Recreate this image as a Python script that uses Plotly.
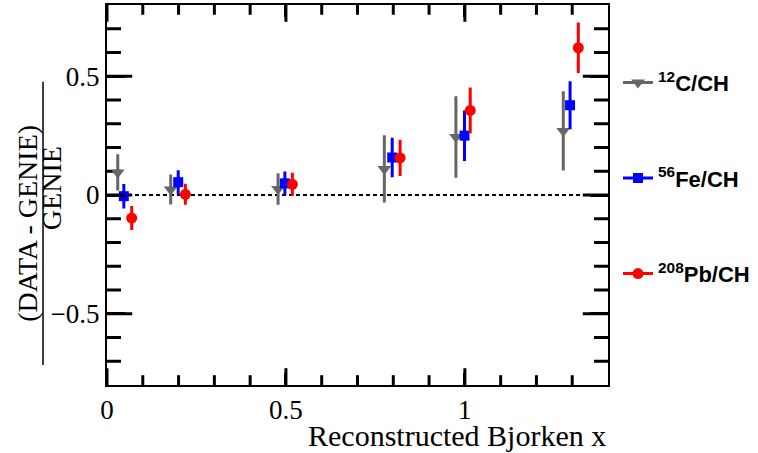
import plotly.graph_objects as go

# ---- data ----
x_c = [0.030, 0.178, 0.478, 0.775, 0.975, 1.275]
y_c = [0.095, 0.023, 0.025, 0.110, 0.244, 0.270]
e_c = [0.070, 0.057, 0.060, 0.135, 0.165, 0.160]

x_fe = [0.047, 0.199, 0.497, 0.797, 0.999, 1.294]
y_fe = [-0.005, 0.054, 0.049, 0.158, 0.250, 0.378]
e_fe = [0.045, 0.044, 0.044, 0.077, 0.100, 0.095]

x_pb = [0.069, 0.219, 0.518, 0.819, 1.015, 1.317]
y_pb = [-0.097, 0.003, 0.045, 0.156, 0.356, 0.620]
e_pb = [0.044, 0.038, 0.042, 0.070, 0.090, 0.100]

series_names = ["<b><sup>12</sup>C/CH</b>", "<b><sup>56</sup>Fe/CH</b>", "<b><sup>208</sup>Pb/CH</b>"]
x_range = [0, 1.4]
y_range = [-0.8, 0.8]
ref_level = [0, 0]

# tick positions
x_major = [0, 0.5, 1.0]
x_minor = [0.1, 0.2, 0.3, 0.4, 0.6, 0.7, 0.8, 0.9, 1.1, 1.2, 1.3]
y_major = [-0.5, 0, 0.5]
y_minor = [-0.7, -0.6, -0.4, -0.3, -0.2, -0.1, 0.1, 0.2, 0.3, 0.4, 0.6, 0.7]

GRAY = "rgb(102,102,102)"
BLUE = "rgb(0,0,255)"
RED = "rgb(255,0,0)"

specs = [
    (x_c, y_c, e_c, GRAY, "triangle-down", 12, series_names[0]),
    (x_fe, y_fe, e_fe, BLUE, "square", 10, series_names[1]),
    (x_pb, y_pb, e_pb, RED, "circle", 11, series_names[2]),
]

fig = go.Figure()

# tick marks (inside, on all four sides) drawn as clipped line markers
def tick_trace(xs, ys, symbol, size):
    return go.Scatter(x=xs, y=ys, mode="markers", showlegend=False, hoverinfo="skip",
                      marker=dict(symbol=symbol, size=size, color="black",
                                  line=dict(color="black", width=3)))

for edge in y_range:
    fig.add_trace(tick_trace(x_major, [edge] * len(x_major), "line-ns-open", 24))
    fig.add_trace(tick_trace(x_minor, [edge] * len(x_minor), "line-ns-open", 14))
for edge in x_range:
    fig.add_trace(tick_trace([edge] * len(y_major), y_major, "line-ew-open", 36))
    fig.add_trace(tick_trace([edge] * len(y_minor), y_minor, "line-ew-open", 20))

# zero reference line (dashed), across the axis range
fig.add_trace(go.Scatter(x=x_range, y=ref_level, mode="lines", showlegend=False,
                         hoverinfo="skip",
                         line=dict(color="black", width=2, dash="4px,3px")))
for i, (xs, ys, es, col, sym, sz, name) in enumerate(specs):
    fig.add_trace(go.Scatter(
        x=xs, y=ys, mode="markers", showlegend=False,
        marker=dict(color=col, symbol=sym, size=sz),
        error_y=dict(type="data", array=es, color=col, thickness=3, width=1.5),
    ))
for i, (xs, ys, es, col, sym, sz, name) in enumerate(specs):
    fig.add_trace(go.Scatter(
        x=[None], y=[None], mode="lines+markers", name=name,
        legendgroup=str(i),
        line=dict(color=col, width=3),
        marker=dict(color=col, symbol=sym, size=sz),
    ))

serif = "Liberation Serif"
axis_common = dict(
    showline=True, linecolor="black", linewidth=2, mirror="allticks",
    ticks="inside", tickcolor="black", tickwidth=2.5,
    showgrid=False, zeroline=False,
    tickfont=dict(family=serif, size=27, color="black"),
)

fig.update_xaxes(range=x_range, tickvals=x_major, ticklen=12, **axis_common)
fig.update_yaxes(range=y_range, tickvals=y_major, ticklen=18, **axis_common)

# axis titles
fig.add_annotation(text="Reconstructed Bjorken x", xref="paper", yref="paper",
                   x=1.0, y=-0.132, xanchor="right", yanchor="middle", showarrow=False,
                   font=dict(family=serif, size=30, color="black"))
fig.add_annotation(text="(DATA - GENIE)", xref="paper", yref="paper", textangle=-90,
                   x=-0.1577, y=0.427, xanchor="center", yanchor="middle", showarrow=False,
                   font=dict(family=serif, size=28, color="black"))
fig.add_annotation(text="GENIE", xref="paper", yref="paper", textangle=-90,
                   x=-0.1118, y=0.518, xanchor="center", yanchor="middle", showarrow=False,
                   font=dict(family=serif, size=28, color="black"))
fig.add_shape(type="line", xref="paper", yref="paper", x0=-0.1277, x1=-0.1277,
              y0=0.0524, y1=0.798, line=dict(color="black", width=1.5))

fig.update_layout(
    width=758, height=453,
    margin=dict(l=107, r=150, t=3, b=68),
    plot_bgcolor="white", paper_bgcolor="white",
    legend=dict(x=1.02, y=0.851, xanchor="left", yanchor="top",
                font=dict(family="Liberation Sans", size=22, color="black"),
                tracegroupgap=64, bgcolor="rgba(0,0,0,0)", borderwidth=0),
)

fig.write_html("out.html")
